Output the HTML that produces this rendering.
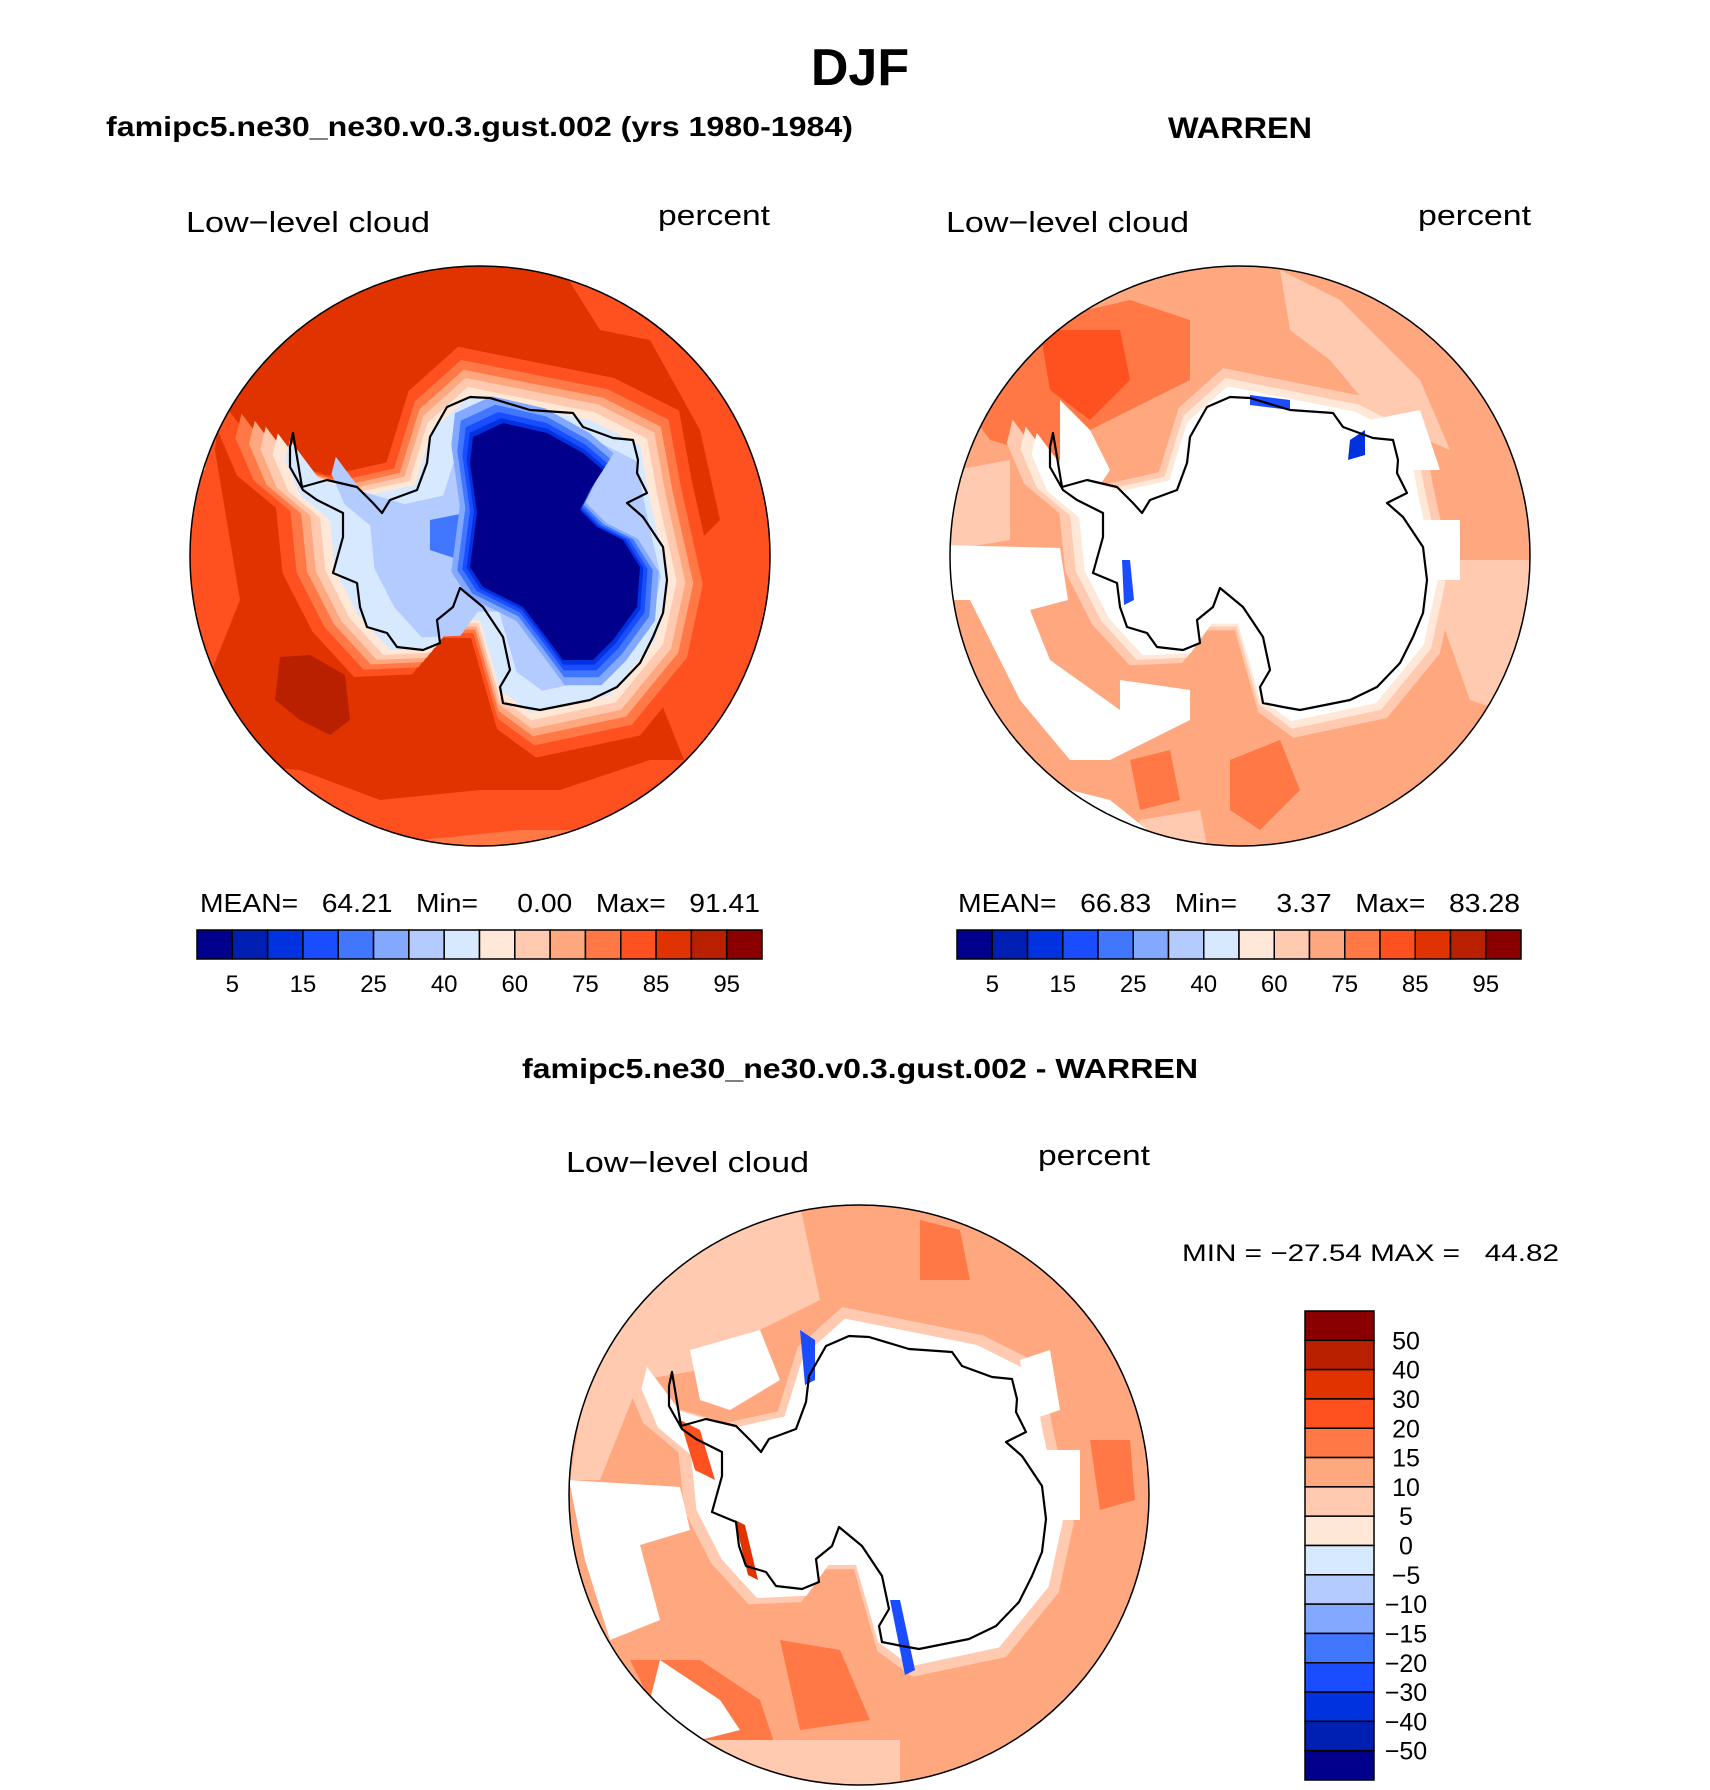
<!DOCTYPE html>
<html><head><meta charset="utf-8">
<style>
html,body{margin:0;padding:0;background:#fff;}
svg{display:block;}
text{font-family:"Liberation Sans",Arial,sans-serif;fill:#000;}
</style></head>
<body>
<svg id="fig" width="1710" height="1790" viewBox="0 0 1710 1790" xmlns="http://www.w3.org/2000/svg">
<text x="860" y="85" font-size="52" font-weight="bold" text-anchor="middle">DJF</text>
<text x="106" y="136" font-size="28" font-weight="bold" textLength="747" lengthAdjust="spacingAndGlyphs">famipc5.ne30_ne30.v0.3.gust.002 (yrs 1980-1984)</text>
<text x="1168" y="138" font-size="30" font-weight="bold" textLength="144" lengthAdjust="spacingAndGlyphs">WARREN</text>
<text x="186" y="232" font-size="29" textLength="244" lengthAdjust="spacingAndGlyphs">Low−level cloud</text>
<text x="658" y="225" font-size="29" textLength="112" lengthAdjust="spacingAndGlyphs">percent</text>
<text x="946" y="232" font-size="29" textLength="243" lengthAdjust="spacingAndGlyphs">Low−level cloud</text>
<text x="1418" y="225" font-size="29" textLength="113" lengthAdjust="spacingAndGlyphs">percent</text>
<text x="200" y="912" font-size="26" textLength="560" lengthAdjust="spacingAndGlyphs" xml:space="preserve">MEAN=   64.21   Min=     0.00   Max=   91.41</text>
<text x="958" y="912" font-size="26" textLength="562" lengthAdjust="spacingAndGlyphs" xml:space="preserve">MEAN=   66.83   Min=     3.37   Max=   83.28</text>
<text x="522" y="1078" font-size="28" font-weight="bold" textLength="676" lengthAdjust="spacingAndGlyphs">famipc5.ne30_ne30.v0.3.gust.002 - WARREN</text>
<text x="566" y="1172" font-size="29" textLength="243" lengthAdjust="spacingAndGlyphs">Low−level cloud</text>
<text x="1038" y="1165" font-size="29" textLength="112" lengthAdjust="spacingAndGlyphs">percent</text>
<text x="1182" y="1261" font-size="24" textLength="377" lengthAdjust="spacingAndGlyphs" xml:space="preserve">MIN = −27.54 MAX =   44.82</text>
<defs>
<clipPath id="cL"><circle cx="480" cy="556" r="290"/></clipPath>
<clipPath id="cR"><circle cx="1240" cy="556" r="290"/></clipPath>
<clipPath id="cB"><circle cx="859" cy="1495" r="290"/></clipPath>
</defs>
<g id="mapL" clip-path="url(#cL)"></g>
<g id="mapR" clip-path="url(#cR)"></g>
<g id="mapB" clip-path="url(#cB)"></g>
<g id="cbars"></g>
</svg>
<script>
// colorbar data
const absColors = ["#00008c","#0020b4","#0032e0","#1a4dff","#4176ff","#82a8ff","#b3cbff","#d6e9ff","#ffe8d8","#ffcab0","#ffa880","#ff7845","#ff5020","#e03300","#b82000","#8a0000"];
const absLevels = [5,10,15,20,25,30,40,50,60,70,75,80,85,90,95];
const absTickLabels = ["5","15","25","40","60","75","85","95"];
const diffLevels = [-50,-40,-30,-20,-15,-10,-5,0,5,10,15,20,30,40,50];
const diffTickLabels = ["50","40","30","20","15","10","5","0","−5","−10","−15","−20","−30","−40","−50"];

const NS="http://www.w3.org/2000/svg";
const svg=document.getElementById('fig');
function mk(tag,attrs,parent){const e=document.createElementNS(NS,tag);for(const k in attrs)e.setAttribute(k,attrs[k]);(parent||svg).appendChild(e);return e;}

const coast=[[293,433],[302,487],[327,480],[357,487],[373,503],[382,513],[390,500],[417,490],[427,463],[430,437],[447,407],[470,397],[490,398],[530,410],[573,413],[583,427],[613,438],[633,440],[638,460],[637,473],[647,493],[627,503],[643,517],[663,547],[667,580],[663,613],[653,637],[640,663],[617,687],[590,700],[540,710],[523,707],[503,703],[500,687],[510,670],[503,637],[483,607],[460,588],[453,607],[437,620],[440,643],[423,650],[397,647],[387,633],[367,627],[360,607],[357,583],[333,573],[343,537],[343,513],[317,500],[303,490],[290,467],[290,447]];
const blob=[[290,440],[320,480],[370,495],[415,485],[432,430],[470,396],[530,408],[590,420],[640,445],[650,500],[668,580],[655,640],[610,695],[530,712],[500,690],[480,620],[455,620],[435,648],[390,650],[358,615],[335,570],[330,520],[300,495],[285,460]];
const navy=[[473,437],[503,423],[547,433],[583,453],[603,470],[590,490],[580,510],[597,527],[623,540],[640,567],[637,607],[613,640],[593,660],[563,660],[543,633],[523,607],[483,587],[470,567],[477,513],[470,463]];
function pts(arr,dx,dy,s,cx,cy){return arr.map(p=>[(cx+(p[0]-cx)*s+dx).toFixed(1),(cy+(p[1]-cy)*s+dy).toFixed(1)].join(',')).join(' ');}
function poly(g,arr,fill,dx,dy,s,cx,cy,name){const e=mk('polygon',{points:pts(arr,dx,dy,s||1,cx||0,cy||0),fill:fill,'stroke-linejoin':'round'},g);

return e;}
const C=absColors;

// LEFT MAP
(function(){const g=document.getElementById('mapL');
const bg=mk('circle',{cx:480,cy:556,r:290,fill:C[13]},g);

poly(g,[[560,266],[600,330],[650,340],[700,430],[720,520],[680,560],[660,700],[700,800],[780,800],[780,260]],C[12],0,0,1,0,0,'east-ocean-region');
poly(g,[[190,300],[230,320],[215,450],[240,600],[200,700],[180,600]],C[12],0,0,1,0,0,'west-rim-region');
poly(g,[[185,380],[215,390],[205,470],[185,480]],C[10],0,0,1,0,0,'west-rim-light');
poly(g,[[180,760],[300,770],[380,800],[480,790],[560,790],[650,760],[700,760],[700,860],[180,860]],C[12],0,0,1,0,0,'south-rim-region');
poly(g,[[320,820],[420,840],[520,830],[600,830],[600,860],[300,860]],C[11],0,0,1,0,0,'south-rim-light');
poly(g,[[280,657],[310,655],[345,675],[350,720],[330,735],[300,720],[275,700]],C[14],0,0,1,0,0,'dark-patch');
poly(g,[[630,615],[660,605],[675,650],[670,700],[640,700]],C[13],0,0,1,0,0,'east-dark-patch');
const cx=510,cy=560;
[[1.3,C[12]],[1.22,C[11]],[1.16,C[10]],[1.11,C[9]],[1.055,C[8]],[1.0,C[7]]].forEach(l=>poly(g,blob,l[1],0,0,l[0],cx,cy,'contour-ring'));
poly(g,blob,C[6],15,0,0.86,cx,cy,'contour-ring');
poly(g,[[430,520],[480,510],[510,530],[500,560],[460,560],[430,550]],C[4],0,0,1,0,0,'blue-patch');
const nx=555,ny=545;
[[1.22,C[5]],[1.15,C[4]],[1.09,C[3]],[1.04,C[2]],[1.0,C[0]]].forEach(l=>poly(g,navy,l[1],0,0,l[0],nx,ny,'contour-core'));
})();

// RIGHT MAP
(function(){const g=document.getElementById('mapR');const dx=760;
const bg=mk('circle',{cx:1240,cy:556,r:290,fill:C[10]},g);

poly(g,[[1000,330],[1130,300],[1190,320],[1190,380],[1150,400],[1090,430],[1060,460],[990,440],[960,400]],C[11],0,0,1,0,0,'upper-left-region');
poly(g,[[1040,330],[1120,330],[1130,380],[1090,420],[1050,390]],C[12],0,0,1,0,0,'upper-left-strong');
poly(g,[[1280,270],[1340,300],[1420,380],[1450,450],[1380,420],[1330,360],[1290,330]],C[9],0,0,1,0,0,'upper-right-light');
poly(g,[[1420,560],[1530,560],[1530,720],[1470,700]],C[9],0,0,1,0,0,'east-light');
poly(g,[[955,470],[1010,460],[1010,540],[950,550]],C[9],0,0,1,0,0,'west-light');
poly(g,[[1230,760],[1280,740],[1300,790],[1260,830],[1230,810]],C[11],0,0,1,0,0,'south-patch');
poly(g,[[1130,760],[1170,750],[1180,800],[1140,810]],C[11],0,0,1,0,0,'south-patch-2');
poly(g,[[1140,820],[1200,810],[1210,860],[1130,860]],C[9],0,0,1,0,0,'south-light');
poly(g,blob,C[9],dx,0,1.17,510,560,'coastal-ring');
poly(g,blob,C[8],dx,0,1.11,510,560,'coastal-ring');
poly(g,blob,'#ffffff',dx,0,1.06,510,560,'missing-data-interior');
poly(g,[[940,545],[1060,548],[1068,600],[1030,610],[1050,660],[1120,710],[1120,680],[1190,690],[1190,720],[1110,760],[1070,760],[1020,700],[990,640],[970,600],[940,600]],'#ffffff',0,0,1,0,0,'missing-data-west');
poly(g,[[1060,400],[1090,430],[1110,470],[1090,500],[1060,470]],'#ffffff',0,0,1,0,0,'missing-data-notch');
poly(g,[[1070,790],[1110,800],[1160,840],[1160,860],[1060,860],[1060,800]],'#ffffff',0,0,1,0,0,'missing-data-rim');
poly(g,[[1370,420],[1420,410],[1440,470],[1400,470]],'#ffffff',0,0,1,0,0,'missing-data-ne');
poly(g,[[1420,520],[1460,520],[1460,580],[1420,580]],'#ffffff',0,0,1,0,0,'missing-data-e');
poly(g,[[1350,440],[1365,430],[1365,455],[1348,460]],C[2],0,0,1,0,0,'blue-spot');
poly(g,[[1250,395],[1290,400],[1290,410],[1250,405]],C[3],0,0,1,0,0,'blue-strip');
poly(g,[[1122,560],[1130,560],[1134,600],[1124,605]],C[3],0,0,1,0,0,'blue-strip-west');
})();

// DIFF MAP
(function(){const g=document.getElementById('mapB');const dx=379,dy=939;
const bg=mk('circle',{cx:859,cy:1495,r:290,fill:C[10]},g);

poly(g,[[600,1290],[700,1230],[800,1205],[820,1300],[760,1330],[700,1370],[640,1380],[600,1480],[570,1480]],C[9],0,0,1,0,0,'nw-light');
poly(g,[[920,1220],[960,1230],[970,1280],[920,1280]],C[11],0,0,1,0,0,'north-patch');
poly(g,[[940,1330],[990,1340],[1010,1380],[960,1390]],C[11],0,0,1,0,0,'ne-patch');
poly(g,[[630,1660],[700,1660],[760,1700],[780,1760],[700,1760],[660,1720]],C[11],0,0,1,0,0,'sw-band');
poly(g,[[780,1640],[840,1650],[870,1720],[800,1730]],C[11],0,0,1,0,0,'south-band');
poly(g,[[700,1740],[900,1740],[900,1790],[700,1790]],C[9],0,0,1,0,0,'south-rim-light');
poly(g,[[1090,1440],[1130,1440],[1135,1500],[1100,1510]],C[11],0,0,1,0,0,'east-patch');
poly(g,blob,C[9],dx,dy,1.17,510,560,'coastal-ring');
poly(g,blob,'#ffffff',dx,dy,1.1,510,560,'missing-data-interior');
poly(g,[[569,1480],[680,1487],[690,1530],[640,1545],[660,1620],[610,1640],[585,1560]],'#ffffff',0,0,1,0,0,'missing-data-west');
poly(g,[[660,1660],[720,1700],[740,1730],[700,1740],[650,1700]],'#ffffff',0,0,1,0,0,'missing-data-sw');
poly(g,[[690,1350],[760,1330],[780,1380],[730,1410],[700,1400]],'#ffffff',0,0,1,0,0,'missing-data-nw');
poly(g,[[1020,1360],[1050,1350],[1060,1410],[1030,1420]],'#ffffff',0,0,1,0,0,'missing-data-ne');
poly(g,[[1040,1450],[1080,1450],[1080,1520],[1040,1520]],'#ffffff',0,0,1,0,0,'missing-data-e');
poly(g,[[680,1420],[700,1430],[715,1480],[695,1470]],C[12],0,0,1,0,0,'red-strip-west');
poly(g,[[735,1520],[745,1525],[758,1580],[748,1575]],C[13],0,0,1,0,0,'red-strip-peninsula');
poly(g,[[800,1330],[815,1340],[815,1380],[805,1385]],C[3],0,0,1,0,0,'blue-strip');
poly(g,[[890,1600],[900,1600],[915,1670],[905,1675]],C[3],0,0,1,0,0,'blue-strip-south');
})();

// coastlines
[['mapL',0,0],['mapR',760,0],['mapB',379,939]].forEach(m=>{
 const c=mk('polygon',{points:pts(coast,m[1],m[2],1,0,0),fill:'none',stroke:'#000','stroke-width':2.2,'stroke-linejoin':'round'});
 
 
});
[[480,556],[1240,556],[859,1495]].forEach(c=>{
 const o=mk('circle',{cx:c[0],cy:c[1],r:290,fill:'none',stroke:'#000','stroke-width':1.5});
 
 
});

function hbar(x0,x1,y0,y1,name){
 const n=absColors.length,w=(x1-x0)/n;
 absColors.forEach((col,i)=>{const r=mk('rect',{x:x0+i*w,y:y0,width:w,height:y1-y0,fill:col,stroke:'#000','stroke-width':1.5});
 
 });
 absLevels.forEach((lv,i)=>{if(i%2===0){const t=mk('text',{x:x0+(i+1)*w,y:992,'font-size':24,'text-anchor':'middle'});
 t.textContent=absTickLabels[i/2];
 
 }});
}
hbar(197,762,930,959,'left-colorbar');
hbar(957,1521,930,959,'right-colorbar');
(function(){const x0=1305,x1=1374,y0=1311,y1=1780,n=absColors.length,h=(y1-y0)/n;
 absColors.slice().reverse().forEach((col,i)=>{const r=mk('rect',{x:x0,y:y0+i*h,width:x1-x0,height:h,fill:col,stroke:'#000','stroke-width':1.5});
 
 });
 diffLevels.slice().reverse().forEach((lv,i)=>{const t=mk('text',{x:1406,y:y0+(i+1)*h+9,'font-size':25,'text-anchor':'middle'});
 t.textContent=diffTickLabels[i];
 
 });
})();
</script>
</body></html>
